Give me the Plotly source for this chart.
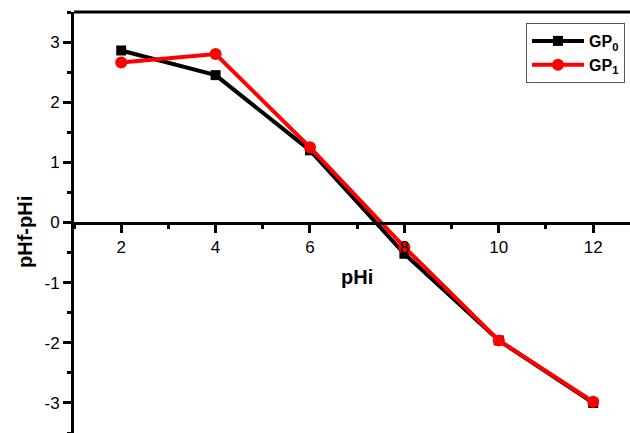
import plotly.graph_objects as go

ph_i = [2, 4, 6, 8, 10, 12]
gp0 = [2.86, 2.45, 1.20, -0.52, -1.96, -3.00]
gp1 = [2.66, 2.80, 1.25, -0.41, -1.96, -2.98]
x_ticks = [2, 4, 6, 8, 10, 12]
y_ticks = [-3, -2, -1, 0, 1, 2, 3]
y_labels = ["-3", "-2", "-1", "0", "1", "2", "3"]

font_family = "Arial, Liberation Sans, sans-serif"

fig = go.Figure()
fig.add_trace(go.Scatter(
    x=ph_i, y=gp0, mode="lines+markers", name="<b>GP<sub>0</sub></b>",
    line=dict(color="black", width=4),
    marker=dict(symbol="square", size=10, color="black"),
))
fig.add_trace(go.Scatter(
    x=ph_i, y=gp1, mode="lines+markers", name="<b>GP<sub>1</sub></b>",
    line=dict(color="#ff0000", width=4),
    marker=dict(symbol="circle", size=12, color="#ff0000"),
))

fig.update_layout(
    width=630, height=433,
    margin=dict(l=74, r=0, t=12, b=0),
    plot_bgcolor="white", paper_bgcolor="white",
    font=dict(family=font_family, size=17, color="black"),
    showlegend=True,
    legend=dict(
        x=(526 - 74) / 556, y=(433 - 23) / 421, xanchor="left", yanchor="top",
        bordercolor="#555555", borderwidth=1, bgcolor="white",
        font=dict(size=16, family=font_family, color="black"),
        itemwidth=52, tracegroupgap=4,
    ),
    xaxis=dict(
        range=[1, 12.78], anchor="free", position=0.5,
        showline=True, linecolor="black", linewidth=3,
        showgrid=False, zeroline=False,
        tickmode="array", tickvals=x_ticks,
        ticks="outside", ticklen=8, tickwidth=3, tickcolor="black",
        tickfont=dict(size=17),
        minor=dict(ticks="outside", ticklen=4, tickwidth=3, tickcolor="black",
                   tick0=1, dtick=1, showgrid=False),
    ),
    yaxis=dict(
        range=[-3.5, 3.5],
        showline=True, linecolor="black", linewidth=3,
        showgrid=False, zeroline=False,
        tickmode="array", tickvals=y_ticks, ticktext=y_labels,
        ticks="outside", ticklen=8, tickwidth=3, tickcolor="black",
        tickfont=dict(size=17),
        minor=dict(ticks="outside", ticklen=4, tickwidth=3, tickcolor="black",
                   tick0=0.5, dtick=1, showgrid=False),
    ),
    shapes=[dict(type="line", xref="paper", yref="paper", x0=0, x1=1, y0=1, y1=1,
                 line=dict(color="black", width=3))],
    annotations=[
        dict(text="<b>pHi</b>", xref="paper", yref="paper", x=(357 - 74) / 556, y=(433 - 277) / 421,
             showarrow=False, font=dict(size=20), xanchor="center", yanchor="middle"),
        dict(text="<b>pHf-pHi</b>", xref="paper", yref="paper", x=-(74 - 25) / 556, y=(433 - 232) / 421,
             showarrow=False, font=dict(size=20), textangle=-90, xanchor="center", yanchor="middle"),
    ],
)

fig.write_html("out.html")
